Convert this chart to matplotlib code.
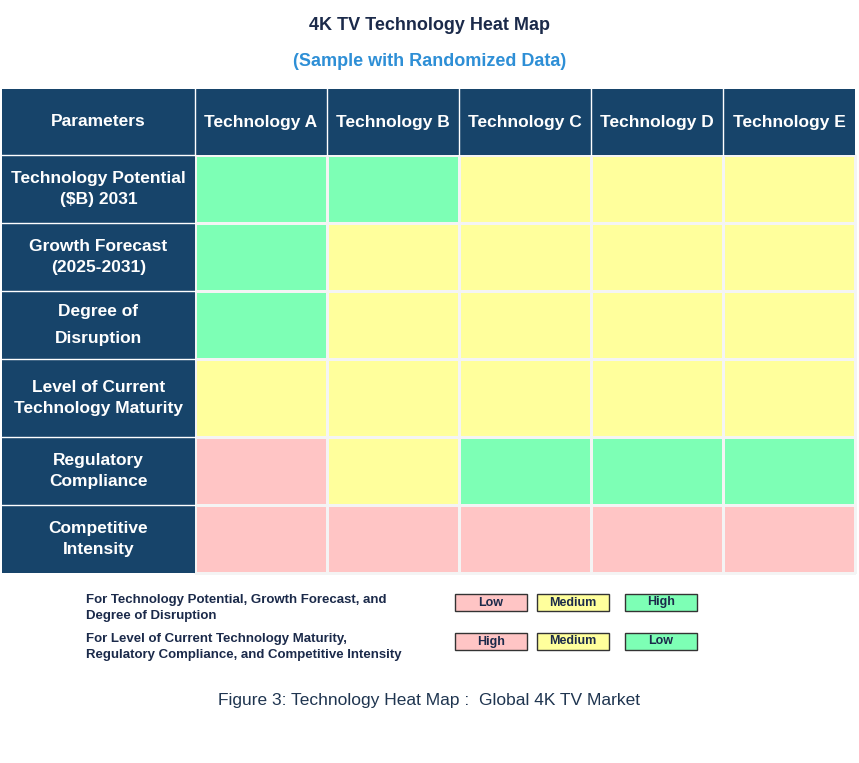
import matplotlib
matplotlib.use("Agg")
import matplotlib.pyplot as plt
import numpy as np
from matplotlib.colors import ListedColormap
from matplotlib.patches import Rectangle

# ---- data ----
technologies = ["Technology A", "Technology B", "Technology C", "Technology D", "Technology E"]
parameters = ["Technology Potential\n($B) 2031", "Growth Forecast\n(2025-2031)", "Degree of\nDisruption",
              "Level of Current\nTechnology Maturity", "Regulatory\nCompliance", "Competitive\nIntensity"]
# 0 = pink, 1 = yellow, 2 = green
levels = [
    [2, 2, 1, 1, 1],
    [2, 1, 1, 1, 1],
    [2, 1, 1, 1, 1],
    [1, 1, 1, 1, 1],
    [0, 1, 2, 2, 2],
    [0, 0, 0, 0, 0],
]
legend_rows = [
    ("For Technology Potential, Growth Forecast, and\nDegree of Disruption", ["Low", "Medium", "High"]),
    ("For Level of Current Technology Maturity,\nRegulatory Compliance, and Competitive Intensity", ["High", "Medium", "Low"]),
]

PINK, YELLOW, GREEN, NAVY = "#ffc5c5", "#ffff9c", "#7dffb5", "#17446a"
cmap = ListedColormap([PINK, YELLOW, GREEN])

W, H = 859, 763
fig = plt.figure(figsize=(W / 100, H / 100), dpi=100)
ax = fig.add_axes([0, 0, 1, 1])
ax.set_xlim(0, W)
ax.set_ylim(H, 0)
ax.axis("off")

# table geometry (pixels)
x_edges = np.array([2, 195, 327, 459, 591, 723, 855])
y_edges = np.array([89, 155, 223, 291, 359, 437, 505, 573])

ax.pcolormesh(x_edges[1:], y_edges[1:], np.array(levels), cmap=cmap, vmin=0, vmax=2,
              edgecolor="#f4f4f4", linewidth=1)

# header row and parameter column
ax.add_patch(Rectangle((x_edges[0], y_edges[0]), x_edges[-1] - x_edges[0], y_edges[1] - y_edges[0],
                       facecolor=NAVY, edgecolor="none"))
for i in range(len(parameters)):
    ax.add_patch(Rectangle((x_edges[0], y_edges[i + 1]), x_edges[1] - x_edges[0], y_edges[i + 2] - y_edges[i + 1],
                           facecolor=NAVY, edgecolor="none"))
for xe in x_edges[1:-1]:
    ax.plot([xe, xe], [y_edges[0], y_edges[1]], color="white", lw=1)
for ye in y_edges[1:-1]:
    ax.plot([x_edges[0], x_edges[1]], [ye, ye], color="white", lw=1)

hdr = ["Parameters"] + technologies
for j, t in enumerate(hdr):
    ax.text((x_edges[j] + x_edges[j + 1]) / 2, (y_edges[0] + y_edges[1]) / 2, t,
            color="white", fontsize=12.5, fontweight="bold", ha="center", va="center", family="Liberation Sans")
for i, p in enumerate(parameters):
    ax.text((x_edges[0] + x_edges[1]) / 2, (y_edges[i + 1] + y_edges[i + 2]) / 2, p,
            color="white", fontsize=12.5, fontweight="bold", ha="center", va="center",
            linespacing=1.45 if i != 2 else 2.0, family="Liberation Sans")

# titles
ax.text(W / 2, 25, "4K TV Technology Heat Map", fontsize=13, fontweight="bold", color="#1b2a4a",
        ha="center", va="center", family="Liberation Sans")
ax.text(W / 2, 61, "(Sample with Randomized Data)", fontsize=13, fontweight="bold", color="#2e8fd6",
        ha="center", va="center", family="Liberation Sans")

# legend
box_x = [455, 537, 625]
box_w = 72
box_y = [594, 633]
box_colors = [PINK, YELLOW, GREEN]
for r, (label, words) in enumerate(legend_rows):
    ax.text(86, box_y[r] + 14, label, fontsize=9.5, fontweight="bold", color="#1b2a4a",
            ha="left", va="center", linespacing=1.5, family="Liberation Sans")
    for k, wd in enumerate(words):
        ax.add_patch(Rectangle((box_x[k], box_y[r]), box_w, 17, facecolor=box_colors[k],
                               edgecolor="#333333", lw=1))
        ax.text(box_x[k] + box_w / 2, box_y[r] + 8.5, wd, fontsize=9, fontweight="bold",
                color="#1b2a4a", ha="center", va="center", family="Liberation Sans")

ax.text(429, 701, "Figure 3: Technology Heat Map :  Global 4K TV Market", fontsize=12.5,
        color="#1f3550", ha="center", va="center", family="Liberation Sans")

fig.savefig("out.png", dpi=100, facecolor="white")
